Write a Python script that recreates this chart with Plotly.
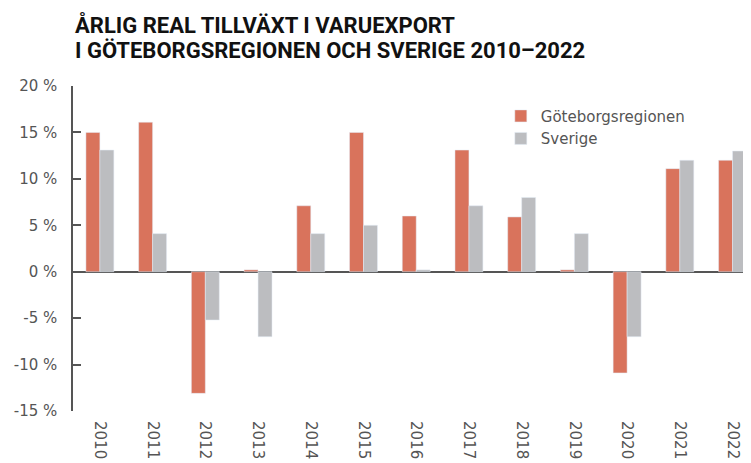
"""Årlig real tillväxt i varuexport, Göteborgsregionen och Sverige 2010-2022."""

import plotly.graph_objects as go

YEARS = ["2010", "2011", "2012", "2013", "2014", "2015", "2016",
         "2017", "2018", "2019", "2020", "2021", "2022"]
GOTEBORG = [15, 16.1, -13.1, 0.2, 7.1, 15, 6, 13.1, 5.9, 0.2, -10.9, 11.1, 12]
SVERIGE = [13.1, 4.1, -5.2, -7, 4.1, 5, 0.2, 7.1, 8, 4.1, -7, 12, 13]
Y_TICKS = [-15, -10, -5, 0, 5, 10, 15, 20]
TITLE_LINES = ["ÅRLIG REAL TILLVÄXT I VARUEXPORT",
               "I GÖTEBORGSREGIONEN OCH SVERIGE 2010–2022"]

RED = "#D9735C"
GREY = "#BCBDC0"
AXIS = "#555555"
FONT = "DejaVu Sans"

# the page body has an 8px margin, so the figure is 8px smaller
# and all margins shifted to land where the reference has things
W, H = 743, 455
M_L, M_T, M_B = 65, 78, 52
PLOT_H = H - M_T - M_B

fig = go.Figure()
fig.add_trace(go.Bar(name="Göteborgsregionen", x=YEARS, y=GOTEBORG, marker_color=RED))
fig.add_trace(go.Bar(name="Sverige", x=YEARS, y=SVERIGE, marker_color=GREY))

for i, (line, yc) in enumerate(zip(TITLE_LINES, [17, 42])):
    fig.add_annotation(
        text=f"<b>{line}</b>",
        xref="paper", yref="paper",
        x=0, y=1 + (M_T - yc) / PLOT_H,
        xanchor="left", yanchor="middle",
        showarrow=False,
        font=dict(family="Roboto", size=22, color="#111111", weight=900),
    )

fig.update_layout(
    width=W,
    height=H,
    barmode="group",
    bargap=0.47,
    bargroupgap=0,
    plot_bgcolor="white",
    paper_bgcolor="white",
    margin=dict(l=M_L, r=0, t=M_T, b=M_B, autoexpand=False),
    font=dict(family=FONT, color=AXIS, size=15),
    legend=dict(
        x=0.631, y=0.958, xanchor="left", yanchor="top",
        bgcolor="rgba(0,0,0,0)",
        font=dict(size=15, color=AXIS),
        tracegroupgap=0,
    ),
)

fig.update_xaxes(
    type="category",
    range=[-0.51, 12.35],
    automargin=False,
    tickangle=90,
    showline=False,
    showgrid=False,
    ticks="",
    ticklabelstandoff=9,
    tickfont=dict(size=15, color=AXIS),
)
fig.update_yaxes(
    range=[-15, 20],
    automargin=False,
    tickvals=Y_TICKS,
    ticktext=[f"{v} %" for v in Y_TICKS],
    tickfont=dict(size=15, color=AXIS),
    showgrid=False,
    showline=True,
    linecolor=AXIS,
    linewidth=1.5,
    ticks="inside",
    ticklen=8,
    tickcolor=AXIS,
    tickwidth=1.5,
    zeroline=True,
    zerolinecolor=AXIS,
    zerolinewidth=1.5,
    ticklabelstandoff=11,
)

fig.write_html("out.html")
